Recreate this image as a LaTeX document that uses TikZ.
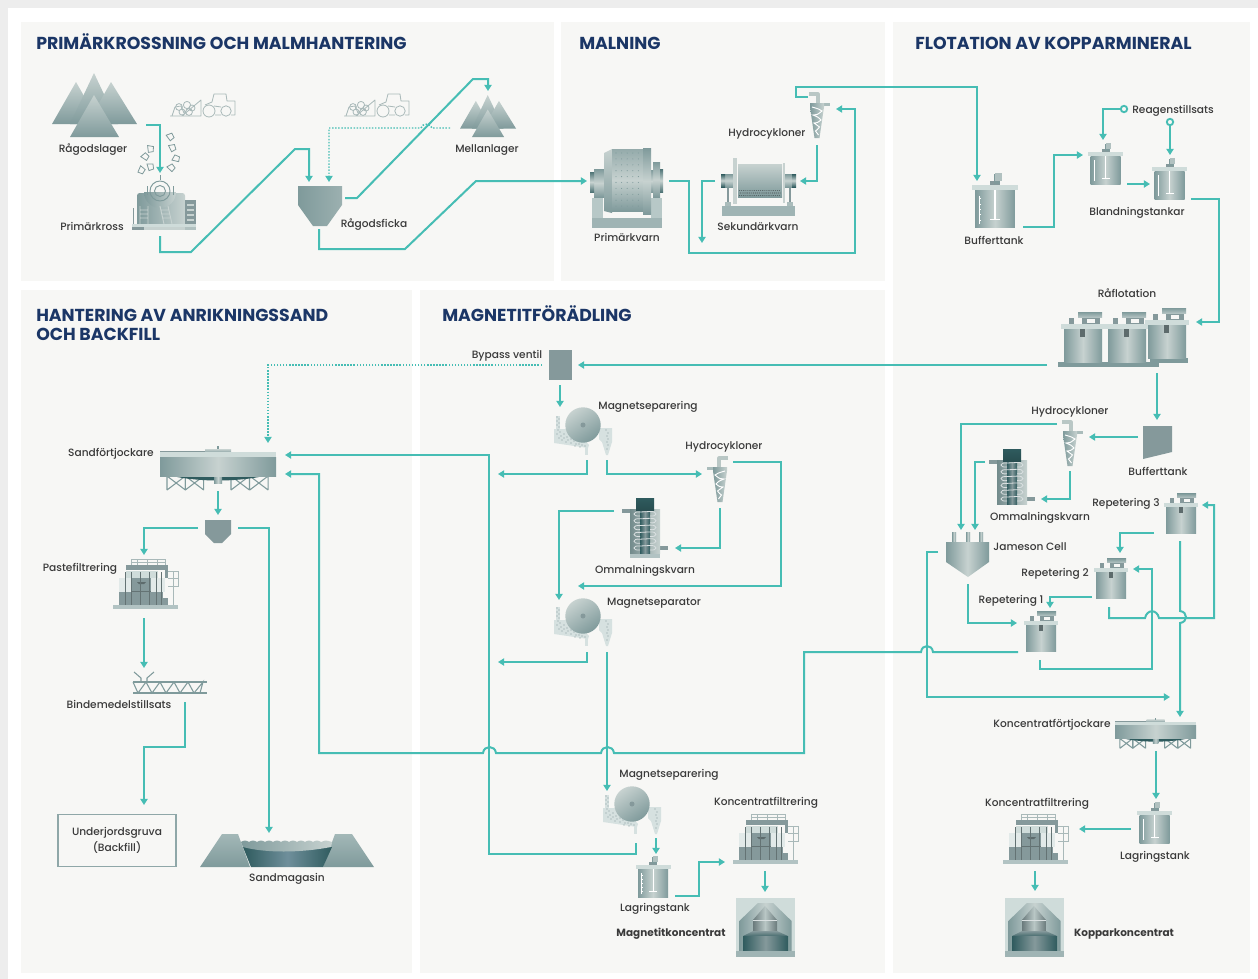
\documentclass[tikz,border=0pt]{standalone}
\usepackage{fontspec}
\setmainfont{Poppins}
\newfontfamily\labfont{Poppins Medium}
\usetikzlibrary{arrows.meta,calc}
\definecolor{conn}{HTML}{46BDB4}
\definecolor{pagebg}{HTML}{FFFFFF}
\definecolor{edgebg}{HTML}{EDEDED}
\definecolor{panel}{HTML}{F7F7F5}
\definecolor{navy}{HTML}{1B3666}
\definecolor{txt}{HTML}{3A3A3A}
\definecolor{gd}{HTML}{7F9A9B}
\definecolor{gl}{HTML}{C7D2D0}
\definecolor{gm}{HTML}{85999B}
\definecolor{lid}{HTML}{CFDCDA}
\definecolor{basec}{HTML}{9FB4B4}
\definecolor{outl}{HTML}{A9B9B9}
\definecolor{deep}{HTML}{2F5B5E}
\definecolor{dammid}{HTML}{6F8F9B}
\tikzset{
  x=0.75pt,y=-0.75pt,
  flow/.style={draw=conn,line width=1.5pt,line join=miter,-{Triangle[length=4.6pt,width=5.4pt]}},
  dotflow/.style={draw=conn,line width=1.1pt,dash pattern=on 1.1pt off 1.2pt,-{Triangle[length=4.6pt,width=5.4pt]}},
  lab/.style={font=\labfont\fontsize{7.95}{10}\selectfont,text=txt,inner sep=0pt,text height=7.5pt,text depth=.5pt},
  blab/.style={font=\fontsize{7.85}{10}\selectfont\bfseries,text=txt,inner sep=0pt,text height=7.5pt,text depth=.5pt},
  ttl/.style={font=\fontsize{13}{15}\selectfont\bfseries,text=navy,inner sep=0pt,anchor=base west},
  pan/.style={fill=panel,draw=none},
  hg/.style={left color=gd,right color=gd,middle color=gl,draw=none},
  hgr/.style={left color=gd,right color=gl,draw=none},
  vg/.style={top color=gl,bottom color=gd,draw=none},
  art/.style={draw=outl,line width=.6pt,fill=none,line join=round},
}
% mountain: three back peaks and one front peak (unit: 85 wide, 64 high)
\newcommand{\mtn}[3]{\begin{scope}[shift={(#1,#2)},scale=#3]
 \shade[vg] (24,9)--(0,51)--(48,51)--cycle;
 \shade[vg] (42,0)--(18,51)--(66,51)--cycle;
 \shade[vg] (59,9)--(35,51)--(85,51)--cycle;
 \shade[vg] (42,22)--(18,64)--(67,64)--cycle;
\end{scope}}
% loader and rock pile, outline only
\newcommand{\loader}[2]{\begin{scope}[shift={(#1,#2)}]
 \draw[art] (0,23)--(31,23)--(31,7)--(12,23);
 \draw[art] (2,23)--(5,14)--(11,13)--(14,20);
 \draw[art] (9,14) circle (3.4) (17,12) circle (3.6) (22,15) circle (3) (12,19) circle (3) (19,19) circle (3.4);
 \draw[art] (39,18) circle (6) (56,18) circle (5.2);
 \draw[art] (35,12)--(42,9)--(44,1)--(56,1)--(57,8)--(65,8)--(65,22)--(61,22) (51,22)--(45,22) (44,13)--(51,14);
\end{scope}}
\newcommand{\rock}[3]{\begin{scope}[shift={(#1,#2)},rotate=#3]\draw[draw=gd,fill=panel,line width=.6pt] (-3,-3)--(3,-3)--(3.6,2)--(-1,3.6)--cycle;\end{scope}}
% stirred tank: scale 1 = 30 wide body
\newcommand{\tank}[3]{\begin{scope}[shift={(#1,#2)},scale=#3]
 \fill[gm] (-4,-3) rectangle (4,0);
 \fill[gd] (-1,-8) rectangle (4,-1);
 \fill[gl!70!gd] (0,-9) rectangle (5,-3);
 \shade[hg] (-15,4) rectangle (15,32);
 \fill[lid] (-17.5,0) rectangle (17.5,4);
 \fill[white] (-.5,4) rectangle (.5,26);
 \fill[white] (-4,25.5) rectangle (4,26.6);
 \fill[white] (-12,8) rectangle (-11.5,29);
 \foreach \q in {10,14,...,28}{\fill[white] (-12,\q) rectangle (-10.5,\q+.5);}
\end{scope}}
% flotation cell: scale 1 = 38 wide body
\newcommand{\fcell}[3]{\begin{scope}[shift={(#1,#2)},scale=#3]
 \fill[gm] (5,-6) rectangle (10,0);
 \fill[gm] (18,-7) rectangle (36,0);
 \fill[panel] (23,-5) rectangle (31,-1);
 \shade[top color=gd,bottom color=gl!70!gd,draw=none] (14,-12) rectangle (38,-7);
 \shade[hg] (0,5) rectangle (38,38);
 \fill[lid] (-3,0) rectangle (41,5);
 \fill[gm!70!black] (16,5) rectangle (21,13);
 \fill[gm!70!black] (18,5) rectangle (19,13);
\end{scope}}
% hydrocyclone, centred on cx with top at y; #3 = 1 normal, -1 mirrored
\newcommand{\cyc}[3]{\begin{scope}[shift={(#1,#2)},xscale=#3]
 \draw[draw=gl!80!gd,line width=2.4pt,line join=round] (-8,-1)--(1,-1)--(1,9);
 \fill[gl!60!gd] (4,8) rectangle (13,11);
 \shade[left color=gd,right color=gl,draw=none] (-7,8)--(7,8)--(7,12)--(2.5,43)--(-2.5,43)--(-7,12)--cycle;
 \draw[white,line width=.7pt] (-5,12)..controls(2,14)..(5,16)..controls(0,20)..(-4,20)..controls(1,22)..(4,25)..controls(0,28)..(-3,28)..controls(0,30)..(2.5,32)..controls(0,35)..(-1.5,36)..controls(0,38)..(1.5,40);
\end{scope}}
% magnetic separator centred on the drum
\newcommand{\magsep}[2]{\begin{scope}[shift={(#1,#2)}]
 \fill[lid!85!white] (-29,4)--(-8,4)--(6,20)--(5,23)--(-29,18)--cycle;
 \fill[lid!85!white] (-27,-9) rectangle (-23,4);
 \fill[lid!85!white] (16,3)--(29,3)--(29,17)--(25,30)--(23,30)--(19,17)--(16,14)--cycle;
 \fill[lid!85!white] (2,20) rectangle (5,30);
 \foreach \px/\py in {-26/-8,-24/-6,-26/-4,-24/-2,-26/0,-24/2,-25/5,-23/7,-26/9,-22/11,-19/9,-24/13,-19/13,-16/12,-21/15,-15/15,-12/14,-17/17,-12/18,-9/16,-7/19,-8/21,-4/19,-3/22,-1/20,2/21,23/5,25/8,24/11,25/14,24/17,25/20,24/24}{\fill[gm] (\px,\py) circle (.6);}
 \shade[left color=gl,right color=gd,shading angle=35,draw=none] (0,0) circle (17.7);
 \fill[gm] (0,0) circle (2.5);
\end{scope}}
% thickener: scale 1 = 116 wide
\newcommand{\thickn}[3]{\begin{scope}[shift={(#1,#2)},scale=#3]
 \fill[gm] (0,0) rectangle (45,2);
 \shade[top color=gl,bottom color=gd,draw=none] (45,-2) rectangle (71,2);
 \fill[gd] (57,-5) rectangle (59,-2);
 \foreach \a in {7,25.3,71,89.7}{\draw[draw=gd,line width=.8pt] (\a,25)--(\a+18.4,39) (\a+18.4,25)--(\a,39) (\a,25)--(\a,39) (\a+18.4,25)--(\a+18.4,39);}
 \fill[deep] (12,25)..controls(40,31)and(76,31)..(104,25)--cycle;
 \shade[hg] (54,25) rectangle (62,32);
 \fill[lid] (0,1) rectangle (116,6);
 \shade[hg] (0,6) rectangle (116,25);
\end{scope}}
% filter press
\newcommand{\filt}[2]{\begin{scope}[shift={(#1,#2)}]
 \fill[basec!80!white] (0,47) rectangle (65,51);
 \draw[draw=outl,line width=.7pt] (18,7)--(18,1)--(52,1)--(52,7) (24,1)--(24,7) (34,1)--(34,7) (44,1)--(44,7) (18,4)--(52,4) (55,13)--(65,13)--(65,28)--(55,28) (60,13)--(60,47) (55,20)--(65,20);
 \fill[lid!60!white] (6,20) rectangle (52,34);
 \fill[lid] (13,13) rectangle (45,20);
 \fill[gm] (6,34) rectangle (50,47);
 \fill[gm] (50,40) rectangle (55,47);
 \fill[gm] (13,7) rectangle (55,12);
 \fill[gm] (52,8) rectangle (55,20);
 \fill[gm] (19,20) rectangle (38,33);
 \fill[gm!70!black] (24,24)--(33,24)--(31,26)--(26,26)--cycle;
 \foreach \b in {12,18,27,36,43,48}{\fill[gm!75!black] (\b,14) rectangle (\b+.9,47);}
 \fill[gm!75!black] (19,33) rectangle (38,34);
\end{scope}}
% concentrate silo
\newcommand{\silo}[2]{\begin{scope}[shift={(#1,#2)}]
 \fill[lid] (0,0) rectangle (59,53);
 \shade[left color=gd,right color=gd,middle color=gl,draw=none] (3.3,53)--(3.3,23)--(22,5)--(37,5)--(55.6,23)--(55.6,53)--cycle;
 \shade[left color=gm!80!black,right color=gm!80!black,middle color=gl!80!gd,draw=none] (17,22)--(29,8)--(41,22)--(41,35)--(17,35)--cycle;
 \fill[white!70!gm] (17,21.5) rectangle (41,22.3);
 \shade[top color=gm,bottom color=deep!70!gm,draw=none] (17,33)--(41,33)--(52,38)--(7,38)--cycle;
 \shade[left color=deep,right color=deep,middle color=gm,draw=none] (7,38) rectangle (52,53);
 \fill[basec] (0,53) rectangle (59,59);
\end{scope}}
% regrind mill: top-left of the motor taken as reference
\newcommand{\omm}[2]{\begin{scope}[shift={(#1,#2)}]
 \fill[gm] (-14,11) rectangle (-6,15);
 \fill[gm] (24,48) rectangle (32,52);
 \shade[left color=gd!90!black,right color=gl,draw=none] (-6,11) rectangle (24,55);
 \shade[left color=deep,right color=deep,middle color=gm,draw=none] (4,11) rectangle (14,55);
 \shade[top color=deep,bottom color=deep!85!black,draw=none] (0,0) rectangle (18,12);
 \foreach \c in {16,22.8,29.6,36.4,43.2,50}{\draw[draw=white!70!gm,line width=.6pt] (4,\c+2)..controls(-4,\c+3)and(-4,\c-3)..(4,\c-2)--(14,\c-2.5) (14,\c-2.5)..controls(22,\c-3)and(22,\c+3)..(14,\c+2);}
\end{scope}}
\begin{document}
\begin{tikzpicture}
\useasboundingbox (0,0) rectangle (1258,979);
\fill[edgebg] (0,0) rectangle (1258,979);
\fill[pagebg] (8,8) rectangle (1258,979);
% panels
\fill[pan] (21,22) rectangle (554,281);
\fill[pan] (561,22) rectangle (885,281);
\fill[pan] (893,22) rectangle (1250,973);
\fill[pan] (21,290) rectangle (412,973);
\fill[pan] (420,290) rectangle (885,973);
% titles
\node[ttl] (t1) at (36,49) {PRIMÄRKROSSNING OCH MALMHANTERING};
\node[ttl] (t2) at (579,49) {MALNING};
\node[ttl] (t3) at (915,49) {FLOTATION AV KOPPARMINERAL};
\node[ttl] (t4a) at (36,321) {HANTERING AV ANRIKNINGSSAND};
\node[ttl] (t4b) at (36,340) {OCH BACKFILL};
\node[ttl] (t5) at (442,321) {MAGNETITFÖRÄDLING};
% ---------- primary crushing equipment
\mtn{52}{73}{1}
\mtn{460}{95}{.66}
\loader{170}{93}
\loader{344}{93}
\rock{170}{137}{20}\rock{150}{149}{-10}\rock{172}{148}{10}\rock{145}{157}{40}\rock{176}{159}{60}\rock{150}{167}{0}\rock{141}{170}{-40}\rock{171}{168}{30}
% primary crusher
\shade[hgr,rounded corners=2pt] (137,193) rectangle (185,226);
\shade[left color=gd,right color=gl,draw=none] (144,192) arc[start angle=180,end angle=0,radius=16]--cycle;
\draw[draw=gd,line width=.7pt] (160,191) circle (10) (160,191) circle (5.5);
\draw[draw=gd,line width=.5pt] (160,175)--(160,180) (147,186)--(147,195) (173,186)--(173,195);
\fill[gm] (185,200) rectangle (196,224);
\foreach \y in {204,209,214,219}{\fill[gl] (187,\y) rectangle (194,\y+1.5);}
\draw[draw=gl,line width=.7pt] (140,206)--(140,224) (148,206)--(148,224) (140,210)--(148,210) (140,214)--(148,214) (140,218)--(148,218) (160,206)--(164,224) (168,206)--(172,224) (161,210)--(169,210) (162,214)--(170,214) (163,218)--(171,218);
\fill[lid] (132,224) rectangle (196,227);
\fill[gm] (132,227) rectangle (144,230);
\fill[gl] (144,227) rectangle (185,230);
\fill[gl!70!gd] (185,227) rectangle (196,230);
\draw[draw=gm,line width=.6pt] (133,208)--(133,224);
% raw ore bin
\shade[hg,left color=gd,middle color=gl,right color=gd!60!gl] (298,186)--(342,186)--(342,205)--(327,226)--(313,226)--(298,205)--cycle;
% primary mill
\fill[basec] (592,218) rectangle (662,228);
\fill[lid!70!gd] (592,198) rectangle (603,218);
\fill[lid!70!gd] (651,198) rectangle (662,218);
\shade[top color=gd,bottom color=gd,middle color=gl,draw=none] (594,169) rectangle (604,197);
\shade[top color=deep!60!gd,bottom color=deep!60!gd,middle color=gl,draw=none] (590,172) rectangle (594,192);
\shade[top color=gd,bottom color=gd,middle color=gl,draw=none] (653,162) rectangle (660,197);
\shade[top color=deep!60!gd,bottom color=deep!60!gd,middle color=gl,draw=none] (660,169) rectangle (663,192);
\shade[top color=gd,bottom color=gd,middle color=gl,draw=none] (651,170) rectangle (653,192);
\shade[top color=gl,bottom color=gd,draw=none] (604,153)--(612,149)--(612,213)--(604,211)--cycle;
\shade[top color=gd!70!gl,bottom color=gd,middle color=gl,draw=none] (612,149) rectangle (643,211);
\shade[top color=gd,bottom color=gd,middle color=gl,draw=none] (643,148) rectangle (651,214);
\foreach \i in {0,1,...,4}{\foreach \j in {0,1,...,9}{\fill[gd] (616+\i*5.6,153+\j*5.9) circle (.55);}}
% secondary mill
\fill[basec] (722,206) rectangle (795,216);
\fill[gl!60!gd] (725,202) rectangle (731,206);
\fill[gl!60!gd] (787,202) rectangle (793,206);
\fill[gm] (727,187) rectangle (729,202);
\fill[gm] (789,187) rectangle (791,202);
\shade[top color=gd,bottom color=gd,middle color=gl,draw=none] (725,174) rectangle (733,187);
\shade[top color=deep,bottom color=deep,middle color=gl,draw=none] (721,174) rectangle (725,187);
\shade[top color=gd,bottom color=gd,middle color=gl,draw=none] (785,174) rectangle (792,187);
\shade[top color=deep,bottom color=deep,middle color=gl,draw=none] (792,174) rectangle (796,187);
\fill[gl] (733,158) rectangle (737,204);
\fill[gl] (783,163) rectangle (785,203);
\shade[top color=gl,bottom color=gd,draw=none] (738,164) rectangle (782,197);
\foreach \i in {0,1,...,21}{\fill[gm!60!black] (739.5+\i*1.9,190.5) circle (.5);\fill[gm!60!black] (740.2+\i*1.9,193) circle (.6);\fill[gm!60!black] (739.5+\i*1.9,195.5) circle (.5);}
% mixing and buffer tanks
\tank{995}{185}{1.33}
\tank{1105.5}{152}{1}
\tank{1169.5}{167}{1}
\tank{653}{865}{1}
\tank{1154.5}{811}{1}
% rougher flotation
\fill[gd] (1058,362) rectangle (1159,367);
\fcell{1064}{324}{1}
\fcell{1108}{324}{1}
\fill[gd] (1150,358) rectangle (1188,363);
\fcell{1148}{320}{1}
\fill[gd] (1148,362) rectangle (1159,367);
% repeated cleaning cells
\fcell{1166}{503}{.79}
\fcell{1096}{568}{.79}
\fcell{1026}{621}{.79}
% hydrocyclones
\cyc{817}{95}{1}
\cyc{1070}{423}{1}
\cyc{720}{459}{-1}
% flot buffer
\fill[gm] (1143,426)--(1172,426)--(1172,452)--(1143,459)--cycle;
% regrind mills
\omm{1003}{449}
\fill[basec!80!white] (630,553) rectangle (660,558);
\omm{636}{498}
% Jameson cell
\shade[hg] (952,532) rectangle (956,543);
\shade[hg] (966,532) rectangle (970,543);
\shade[hg] (979,532) rectangle (983,543);
\shade[hg] (946,542)--(989,542)--(989,562)--(968,577)--(946,562)--cycle;
% separators
\magsep{583}{425}
\magsep{583}{616}
\magsep{632}{804}
% thickeners
\thickn{160}{451}{1}
\thickn{1115}{721}{.7}
% filter presses
\filt{113}{558}
\filt{733}{813}
\filt{1003}{813}
% silos
\silo{736}{898}
\silo{1005}{898}
% bypass valve
\fill[gm] (549,350) rectangle (572,380);
% sand hopper
\fill[gm] (205,520)--(231,520)--(231,534)--(222,543)--(214,543)--(205,534)--cycle;
% binder screw
\draw[draw=gd,line width=.8pt] (133,682)--(207,682) (133,693)--(207,693);
\draw[draw=gd,line width=.8pt] (133,682)--(138,693)--(146,682)--(152,693)--(160,682)--(166,693)--(174,682)--(180,693)--(188,682)--(194,693)--(203,682)--(200,693);
\draw[draw=gd,line width=.8pt] (134,672)--(141,678)--(141,682) (154,672)--(147,678)--(147,682);
% tailings dam
\shade[top color=gd!55!lid,bottom color=gd,draw=none] (200,867)--(222,834)--(238,834)--(250,867)--cycle;
\shade[top color=gd!55!lid,bottom color=gd,draw=none] (323,867)--(335,834)--(352,834)--(374,867)--cycle;
\shade[left color=deep,right color=deep,middle color=dammid,draw=none] (243,847)--(332,847)--(323,867)--(251,867)--cycle;
\shade[left color=gd,right color=gl,draw=none] (241,842)..controls(244,840)and(246,840)..(249,842)..controls(252,840)and(254,840)..(257,842)..controls(260,840)and(262,840)..(265,842)..controls(268,840)and(270,840)..(273,842)..controls(276,840)and(278,840)..(281,842)..controls(284,840)and(286,840)..(289,842)..controls(292,840)and(294,840)..(297,842)..controls(300,840)and(302,840)..(305,842)..controls(308,840)and(310,840)..(313,842)..controls(316,840)and(318,840)..(321,842)..controls(324,840)and(326,840)..(332,842)--(331,847)..controls(300,853)and(265,853)..(243,847)--cycle;
% ---------- labels
\node[lab] (n1) at (93,148) {Rågodslager};
\node[lab] (n2) at (92,226) {Primärkross};
\node[lab] (n3) at (374,223) {Rågodsficka};
\node[lab] (n4) at (487,148) {Mellanlager};
\node[lab] (n5) at (627,237) {Primärkvarn};
\node[lab] (n6) at (767,132) {Hydrocykloner};
\node[lab] (n7) at (758,226) {Sekundärkvarn};
\node[lab] (n8) at (994,240) {Bufferttank};
\node[lab] (n9) at (1173,109) {Reagenstillsats};
\node[lab] (n10) at (1137,211) {Blandningstankar};
\node[lab] (n11) at (1127,293) {Råflotation};
\node[lab] (n12) at (1070,410) {Hydrocykloner};
\node[lab] (n13) at (1158,471) {Bufferttank};
\node[lab] (n14) at (1126,502) {Repetering 3};
\node[lab] (n15) at (1040,516) {Ommalningskvarn};
\node[lab] (n16) at (1030,546) {Jameson Cell};
\node[lab] (n17) at (1055,572) {Repetering 2};
\node[lab] (n18) at (1011,599) {Repetering 1};
\node[lab] (n19) at (1052,723) {Koncentratförtjockare};
\node[lab] (n20) at (1037,802) {Koncentratfiltrering};
\node[lab] (n21) at (1155,855) {Lagringstank};
\node[blab] (n22) at (1124,932) {Kopparkoncentrat};
\node[lab] (n23) at (507,354) {Bypass ventil};
\node[lab] (n24) at (648,405) {Magnetseparering};
\node[lab] (n25) at (724,445) {Hydrocykloner};
\node[lab] (n26) at (645,569) {Ommalningskvarn};
\node[lab] (n27) at (654,601) {Magnetseparator};
\node[lab] (n28) at (669,773) {Magnetseparering};
\node[lab] (n29) at (766,801) {Koncentratfiltrering};
\node[lab] (n30) at (655,907) {Lagringstank};
\node[blab] (n31) at (671,932) {Magnetitkoncentrat};
\node[lab] (n32) at (111,452) {Sandförtjockare};
\node[lab] (n33) at (80,567) {Pastefiltrering};
\node[lab] (n34) at (119,704) {Bindemedelstillsats};
\node[lab] (n35) at (287,877) {Sandmagasin};
\node[draw=gd!80!lid,line width=.8pt,fill=none,minimum width=88.5pt,minimum height=39.5pt,align=center,font=\labfont\fontsize{7.95}{12}\selectfont,text=txt,inner sep=0pt] (box) at (117,840.5) {Underjordsgruva\\(Backfill)};
% ---------- named connector ends
\coordinate (a1) at (146,125); \coordinate (a2) at (160,173);
\coordinate (b1) at (160,236); \coordinate (b2) at (309,182);
\coordinate (c1) at (345,198); \coordinate (c2) at (488,91);
\coordinate (d1) at (450,128); \coordinate (d2) at (329,182);
\coordinate (e1) at (319,229); \coordinate (e2) at (587,181);
\coordinate (f1) at (669,181); \coordinate (f2) at (836,109);
\coordinate (g1) at (715,181); \coordinate (g2) at (702,243);
\coordinate (h1) at (817,145); \coordinate (h2) at (800,181);
\coordinate (i1) at (808,97); \coordinate (i2) at (977,181);
\coordinate (j1) at (1023,227); \coordinate (j2) at (1083,155);
\coordinate (r1) at (1124,109); \coordinate (r1e) at (1103,140);
\coordinate (r2) at (1170,122); \coordinate (r2e) at (1170,155);
\coordinate (k1) at (1127,184); \coordinate (k2) at (1150,184);
\coordinate (l1) at (1191,199); \coordinate (l2) at (1196,322);
\coordinate (m1) at (1047,365); \coordinate (m2) at (578,365);
\coordinate (n1a) at (1157,373); \coordinate (n1b) at (1157,420);
\coordinate (o1) at (1138,437); \coordinate (o2) at (1089,437);
\coordinate (p1) at (1057,424); \coordinate (p2) at (961,530);
\coordinate (q1) at (1070,471); \coordinate (q2) at (1041,499);
\coordinate (s1) at (985,462); \coordinate (s2) at (975,530);
\coordinate (u1) at (968,584); \coordinate (u2) at (1017,623);
\coordinate (v1) at (938,552); \coordinate (v2) at (1170,697);
\coordinate (w1) at (1154,533); \coordinate (w2) at (1120,553);
\coordinate (x1) at (1180,541); \coordinate (x2) at (1180,717);
\coordinate (y1) at (1092,597); \coordinate (y2) at (1050,608);
\coordinate (z1) at (1109,607); \coordinate (z2) at (1202,505);
\coordinate (aa1) at (1040,660); \coordinate (aa2) at (1133,569);
\coordinate (ab1) at (1018,652); \coordinate (ab2) at (285,474);
\coordinate (ac1) at (542,365); \coordinate (ac2) at (268,443);
\coordinate (ad1) at (560,385); \coordinate (ad2) at (560,407);
\coordinate (ae1) at (587,460); \coordinate (ae2) at (498,474);
\coordinate (af1) at (607,460); \coordinate (af2) at (702,474);
\coordinate (ag1) at (733,462); \coordinate (ag2) at (578,586);
\coordinate (ah1) at (720,508); \coordinate (ah2) at (675,548);
\coordinate (ai1) at (614,511); \coordinate (ai2) at (559,600);
\coordinate (aj1) at (587,652); \coordinate (aj2) at (498,662);
\coordinate (ak1) at (607,652); \coordinate (ak2) at (607,791);
\coordinate (al1) at (636,843); \coordinate (al2) at (285,455);
\coordinate (am1) at (656,838); \coordinate (am2) at (656,854);
\coordinate (an1) at (675,896); \coordinate (an2) at (725,862);
\coordinate (ao1) at (765,871); \coordinate (ao2) at (765,892);
\coordinate (ap1) at (218,491); \coordinate (ap2) at (218,515);
\coordinate (aq1) at (198,528); \coordinate (aq2) at (144,555);
\coordinate (ar1) at (238,528); \coordinate (ar2) at (269,833);
\coordinate (as1) at (144,618); \coordinate (as2) at (144,668);
\coordinate (at1) at (185,702); \coordinate (at2) at (144,805);
\coordinate (au1) at (1156,751); \coordinate (au2) at (1156,799);
\coordinate (av1) at (1131,829); \coordinate (av2) at (1079,829);
\coordinate (aw1) at (1035,871); \coordinate (aw2) at (1035,891);
% ---------- connectors
\draw[flow] (a1)--(160,125)--(a2);
\draw[flow] (b1)--(160,252)--(191,252)--(295,149)--(309,149)--(b2);
\draw[flow] (c1)--(357,198)--(473,79)--(488,79)--(c2);
\draw[dotflow] (d1)--(432,128)..controls(431,123)and(422,123)..(421,128)--(329,128)--(d2);
\draw[flow] (e1)--(319,249)--(405,249)--(476,181)--(e2);
\draw[flow] (f1)--(689,181)--(689,253)--(855,253)--(855,109)--(f2);
\draw[flow] (g1)--(702,181)--(g2);
\draw[flow] (h1)--(817,181)--(h2);
\draw[flow] (i1)--(796,97)--(796,87)--(977,87)--(i2);
\draw[flow] (j1)--(1054,227)--(1054,155)--(j2);
\draw[flow] (r1)--(1103,109)--(r1e);
\draw[flow] (r2)--(r2e);
\draw[draw=conn,line width=1.4pt,fill=panel] (r1) circle (3.2);
\draw[draw=conn,line width=1.4pt,fill=panel] (r2) circle (3.2);
\draw[flow] (k1)--(k2);
\draw[flow] (l1)--(1219,199)--(1219,322)--(l2);
\draw[flow] (m1)--(m2);
\draw[flow] (n1a)--(n1b);
\draw[flow] (o1)--(o2);
\draw[flow] (p1)--(961,424)--(p2);
\draw[flow] (q1)--(1070,499)--(q2);
\draw[flow] (s1)--(975,462)--(s2);
\draw[flow] (u1)--(968,623)--(u2);
\draw[flow] (v1)--(927,552)--(927,697)--(v2);
\draw[flow] (w1)--(1120,533)--(w2);
\draw[flow] (x1)--(1180,611)..controls(1188,612)and(1188,622)..(1180,623)--(x2);
\draw[flow] (y1)--(1050,597)--(y2);
\draw[flow] (z1)--(1109,618)--(1145,618)..controls(1147,609)and(1157,609)..(1159,618)--(1214,618)--(1214,505)--(z2);
\draw[flow] (aa1)--(1040,669)--(1152,669)--(1152,569)--(aa2);
\draw[flow] (ab1)--(933,652)..controls(932,644)and(922,644)..(921,652)--(804,652)--(804,753)--(614,753)..controls(613,745)and(602,745)..(601,753)--(496,753)..controls(495,745)and(484,745)..(483,753)--(319,753)--(319,474)--(ab2);
\draw[dotflow] (ac1)--(268,365)--(ac2);
\draw[flow] (ad1)--(ad2);
\draw[flow] (ae1)--(587,474)--(ae2);
\draw[flow] (af1)--(607,474)--(af2);
\draw[flow] (ag1)--(781,462)--(781,586)--(ag2);
\draw[flow] (ah1)--(720,548)--(ah2);
\draw[flow] (ai1)--(559,511)--(ai2);
\draw[flow] (aj1)--(587,662)--(aj2);
\draw[flow] (ak1)--(ak2);
\draw[flow] (al1)--(636,854)--(489,854)--(489,455)--(al2);
\draw[flow] (am1)--(am2);
\draw[flow] (an1)--(699,896)--(699,862)--(an2);
\draw[flow] (ao1)--(ao2);
\draw[flow] (ap1)--(ap2);
\draw[flow] (aq1)--(144,528)--(aq2);
\draw[flow] (ar1)--(269,528)--(ar2);
\draw[flow] (as1)--(as2);
\draw[flow] (at1)--(185,747)--(144,747)--(at2);
\draw[flow] (au1)--(au2);
\draw[flow] (av1)--(av2);
\draw[flow] (aw1)--(aw2);
\end{tikzpicture}
\end{document}
